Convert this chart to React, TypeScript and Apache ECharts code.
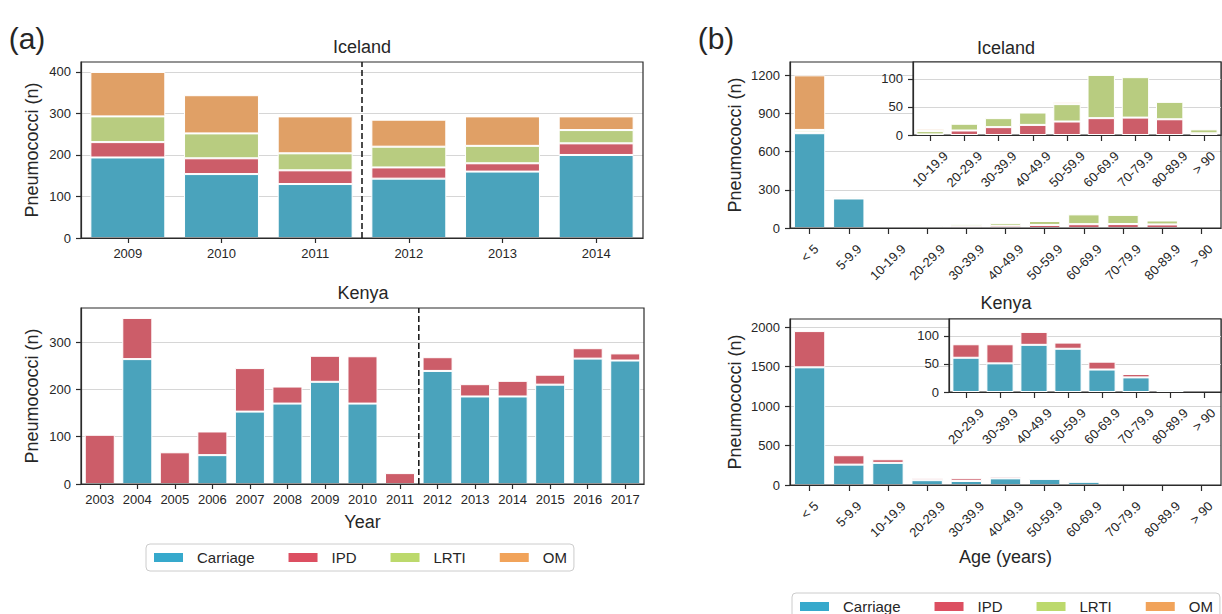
import React, { useEffect, useRef } from 'react';
import * as echarts from 'echarts';

const FONT = '"Liberation Sans", Arial, Helvetica, sans-serif';
const TXT = '#262626';
const AX = '#2b2b2b';
const GRIDLINE = '#d6d6d6';

const seriesNames = ['Carriage', 'IPD', 'LRTI', 'OM'];
const barColors = ['#4aa3bc', '#cc5d69', '#b8cc80', '#e0a066'];
const legendColors = ['#36a9cc', '#dc4f61', '#bcd96c', '#f1a35a'];

// (a) Iceland by year
const yearsIceland = ['2009', '2010', '2011', '2012', '2013', '2014'];
const iceYearCarriage = [194, 154, 130, 143, 160, 200];
const iceYearIpd = [37, 38, 33, 27, 20, 28];
const iceYearLrti = [62, 60, 41, 50, 42, 32];
const iceYearOm = [107, 92, 89, 65, 71, 33];
const iceYearSplitAfter = '2011';
const iceYearTicks = [0, 100, 200, 300, 400];

// (a) Kenya by year
const yearsKenya = ['2003', '2004', '2005', '2006', '2007', '2008', '2009', '2010', '2011', '2012', '2013', '2014', '2015', '2016', '2017'];
const kenYearCarriage = [0, 264, 0, 61, 153, 170, 216, 170, 0, 239, 185, 185, 210, 265, 261];
const kenYearIpd = [104, 87, 67, 50, 92, 36, 55, 100, 23, 29, 26, 33, 21, 22, 15];
const kenYearSplitAfter = '2011';
const kenYearTicks = [0, 100, 200, 300];

// (b) by age
const ageGroups = ['< 5', '5-9.9', '10-19.9', '20-29.9', '30-39.9', '40-49.9', '50-59.9', '60-69.9', '70-79.9', '80-89.9', '> 90'];
const iceAgeCarriage = [745, 232, 0, 0, 0, 0, 0, 0, 0, 0, 0];
const iceAgeIpd = [8, 6, 1, 8, 14, 18, 24, 30, 31, 28, 3];
const iceAgeLrti = [18, 10, 6, 12, 16, 22, 31, 77, 72, 31, 7];
const iceAgeOm = [429, 8, 4, 0, 0, 0, 4, 0, 0, 0, 0];
const iceAgeTicks = [0, 300, 600, 900, 1200];
const iceInsetFrom = '10-19.9';

const kenAgeCarriage = [1490, 258, 280, 61, 51, 84, 77, 40, 26, 3, 0];
const kenAgeIpd = [459, 119, 46, 24, 34, 23, 11, 14, 6, 0, 0];
const kenAgeTicks = [0, 500, 1000, 1500, 2000];
const kenInsetFrom = '20-29.9';

const insetTicks = [0, 50, 100];

const nz = (arr: number[]) => arr.map((v) => (v === 0 ? null : v));

function bar(name: string, data: number[], xi: number, yi: number, stack: string, z: number) {
  const idx = seriesNames.indexOf(name);
  return {
    type: 'bar',
    name,
    data: nz(data),
    xAxisIndex: xi,
    yAxisIndex: yi,
    stack,
    barCategoryGap: '20%',
    z,
    silent: true,
    itemStyle: { color: barColors[idx], borderColor: '#ffffff', borderWidth: 1 },
  };
}

function yAx(grid: number, max: number, interval: number, ticks: number[], extra: any = {}) {
  return {
    type: 'value',
    gridIndex: grid,
    min: 0,
    max,
    interval,
    axisLine: { show: true, onZero: false, lineStyle: { color: AX, width: 1.2 } },
    axisTick: { show: true, length: 5, lineStyle: { color: AX, width: 1.2 }, customValues: ticks },
    axisLabel: {
      color: TXT, fontSize: 13, margin: 10, fontFamily: FONT, customValues: ticks,
      formatter: (v: number) => String(v),
    },
    splitLine: { show: true, lineStyle: { color: GRIDLINE, width: 1 } },
    ...extra,
  };
}

function xCat(grid: number, data: string[], showLabel: boolean, z: number, extra: any = {}) {
  return {
    type: 'category',
    gridIndex: grid,
    data,
    boundaryGap: true,
    z,
    axisLine: { show: true, onZero: false, lineStyle: { color: AX, width: 1.2 } },
    axisTick: { show: true, alignWithLabel: true, length: 5, lineStyle: { color: AX, width: 1.2 } },
    axisLabel: { show: showLabel, color: TXT, fontSize: 13, margin: 9, interval: 0, fontFamily: FONT },
    splitLine: { show: false },
    ...extra,
  };
}

export default function App() {
  const ref = useRef<HTMLDivElement>(null);

  useEffect(() => {
    const chart = echarts.init(ref.current!, null, { renderer: 'svg' });

    const iceYearMax = 424;
    const kenYearMax = 372;
    const iceAgeMax = 1305;
    const kenAgeMax = 2102;
    const insetMax = 130;

    const iceInsetCats = ageGroups.slice(ageGroups.indexOf(iceInsetFrom));
    const kenInsetCats = ageGroups.slice(ageGroups.indexOf(kenInsetFrom));
    const iceStart = ageGroups.indexOf(iceInsetFrom);
    const kenStart = ageGroups.indexOf(kenInsetFrom);

    const iceSplit = yearsIceland.indexOf(iceYearSplitAfter) + 0.5;
    const kenSplit = yearsKenya.indexOf(kenYearSplitAfter) + 0.5;

    const yName = (gap: number) => ({
      name: 'Pneumococci (n)',
      nameLocation: 'middle',
      nameGap: gap,
      nameTextStyle: { fontSize: 18, color: TXT, fontFamily: FONT },
    });

    const legendData = seriesNames.map((n, i) => ({ name: n, itemStyle: { color: legendColors[i] } }));
    const legendBase = {
      orient: 'horizontal',
      icon: 'rect',
      itemWidth: 31,
      itemHeight: 11,
      itemGap: 32,
      padding: [6, 7, 6, 6],
      borderColor: '#cccccc',
      borderWidth: 1,
      borderRadius: 4,
      selectedMode: false,
      backgroundColor: '#ffffff',
      textStyle: { fontSize: 15, color: TXT, fontFamily: FONT, padding: [0, 0, 0, 8] },
      data: legendData,
    };

    const tick6 = { axisTick: { show: true, alignWithLabel: true, length: 6, lineStyle: { color: AX, width: 1.2 } } };

    const option: any = {
      animation: false,
      backgroundColor: '#ffffff',
      textStyle: { fontFamily: FONT },
      grid: [
        { left: 81, top: 62, width: 562, height: 176, show: true, borderColor: AX, borderWidth: 1.2, backgroundColor: 'transparent', z: 3 },
        { left: 81, top: 308, width: 563, height: 176, show: true, borderColor: AX, borderWidth: 1.2, backgroundColor: 'transparent', z: 3 },
        { left: 790, top: 62, width: 431, height: 166, show: true, borderColor: AX, borderWidth: 1.2, backgroundColor: 'transparent', z: 3 },
        { left: 913, top: 62, width: 308, height: 73, show: true, borderColor: AX, borderWidth: 1.2, backgroundColor: '#ffffff', z: 5 },
        { left: 790, top: 319, width: 431, height: 166, show: true, borderColor: AX, borderWidth: 1.2, backgroundColor: 'transparent', z: 3 },
        { left: 949, top: 319, width: 272, height: 73, show: true, borderColor: AX, borderWidth: 1.2, backgroundColor: '#ffffff', z: 5 },
      ],
      xAxis: [
        xCat(0, yearsIceland, true, 3),
        xCat(1, yearsKenya, true, 3, {
          name: 'Year', nameLocation: 'middle', nameGap: 29,
          nameTextStyle: { fontSize: 18, color: TXT, fontFamily: FONT },
        }),
        xCat(2, ageGroups, false, 3, tick6),
        xCat(3, iceInsetCats, false, 8, tick6),
        xCat(4, ageGroups, false, 3, {
          ...tick6,
          name: 'Age (years)', nameLocation: 'middle', nameGap: 63,
          nameTextStyle: { fontSize: 18, color: TXT, fontFamily: FONT },
        }),
        xCat(5, kenInsetCats, false, 8, tick6),
        { type: 'value', gridIndex: 0, min: -0.5, max: yearsIceland.length - 0.5, show: false, position: 'top', axisLine: { onZero: false } },
        { type: 'value', gridIndex: 1, min: -0.5, max: yearsKenya.length - 0.5, show: false, position: 'top', axisLine: { onZero: false } },
      ],
      yAxis: [
        yAx(0, iceYearMax, 100, iceYearTicks, yName(40)),
        yAx(1, kenYearMax, 100, kenYearTicks, yName(40)),
        yAx(2, iceAgeMax, 300, iceAgeTicks, yName(46)),
        yAx(3, insetMax, 50, insetTicks, { z: 6 }),
        yAx(4, kenAgeMax, 500, kenAgeTicks, yName(46)),
        yAx(5, insetMax, 50, insetTicks, { z: 6 }),
      ],
      legend: [
        { ...legendBase, left: 146, top: 544 },
        { ...legendBase, left: 792, top: 593 },
      ],
      series: [
        bar('Carriage', iceYearCarriage, 0, 0, 'ay', 2),
        bar('IPD', iceYearIpd, 0, 0, 'ay', 2),
        bar('LRTI', iceYearLrti, 0, 0, 'ay', 2),
        bar('OM', iceYearOm, 0, 0, 'ay', 2),
        {
          type: 'line', name: 'split-ice', xAxisIndex: 6, yAxisIndex: 0, symbol: 'none', silent: true, z: 4,
          data: [[iceSplit, 0], [iceSplit, iceYearMax]],
          lineStyle: { color: '#1e1e1e', width: 1.6, type: [6, 3] },
        },
        bar('Carriage', kenYearCarriage, 1, 1, 'ky', 2),
        bar('IPD', kenYearIpd, 1, 1, 'ky', 2),
        {
          type: 'line', name: 'split-ken', xAxisIndex: 7, yAxisIndex: 1, symbol: 'none', silent: true, z: 4,
          data: [[kenSplit, 0], [kenSplit, kenYearMax]],
          lineStyle: { color: '#1e1e1e', width: 1.6, type: [6, 3] },
        },
        bar('Carriage', iceAgeCarriage, 2, 2, 'ia', 2),
        bar('IPD', iceAgeIpd, 2, 2, 'ia', 2),
        bar('LRTI', iceAgeLrti, 2, 2, 'ia', 2),
        bar('OM', iceAgeOm, 2, 2, 'ia', 2),
        bar('Carriage', iceAgeCarriage.slice(iceStart), 3, 3, 'iai', 7),
        bar('IPD', iceAgeIpd.slice(iceStart), 3, 3, 'iai', 7),
        bar('LRTI', iceAgeLrti.slice(iceStart), 3, 3, 'iai', 7),
        bar('OM', iceAgeOm.slice(iceStart), 3, 3, 'iai', 7),
        bar('Carriage', kenAgeCarriage, 4, 4, 'ka', 2),
        bar('IPD', kenAgeIpd, 4, 4, 'ka', 2),
        bar('Carriage', kenAgeCarriage.slice(kenStart), 5, 5, 'kai', 7),
        bar('IPD', kenAgeIpd.slice(kenStart), 5, 5, 'kai', 7),
      ],
    };

    chart.setOption(option);

    const canvas = document.createElement('canvas');
    const ctx = canvas.getContext('2d')!;
    const measure = (t: string, fs: number) => {
      ctx.font = `${fs}px "Liberation Sans", Arial, sans-serif`;
      return ctx.measureText(t).width;
    };

    const textEl = (text: string, x: number, y: number, fs: number, extra: any = {}) => ({
      type: 'text',
      x,
      y,
      silent: true,
      z: 20,
      style: {
        text,
        fill: TXT,
        fontSize: fs,
        fontFamily: FONT,
        align: 'center',
        verticalAlign: 'middle',
        textAlign: 'center',
        textVerticalAlign: 'middle',
      },
      ...extra,
    });

    const rotLabels = (gridIndex: number, cats: string[], fs: number, pad: number) =>
      cats.map((c) => {
        const p = chart.convertToPixel({ gridIndex } as any, [c, 0]) as number[];
        const w = measure(c, fs);
        const cy = p[1] + pad + 0.3536 * (w + fs);
        return textEl(c, p[0], cy, fs, { rotation: Math.PI / 4 });
      });

    const elements: any[] = [
      textEl('(a)', 27, 38, 30),
      textEl('(b)', 716, 38, 30),
      textEl('Iceland', 362, 47, 18),
      textEl('Kenya', 363, 293, 18),
      textEl('Iceland', 1006, 48, 18),
      textEl('Kenya', 1006, 303, 18),
      ...rotLabels(2, ageGroups, 13, 14),
      ...rotLabels(3, iceInsetCats, 13, 14),
      ...rotLabels(4, ageGroups, 13, 14),
      ...rotLabels(5, kenInsetCats, 13, 14),
    ];

    chart.setOption({ graphic: [{ elements }] });

    return () => chart.dispose();
  }, []);

  return (
    <div
      ref={ref}
      style={{ position: 'fixed', left: 0, top: 0, width: 1222, height: 614, background: '#ffffff' }}
    />
  );
}
